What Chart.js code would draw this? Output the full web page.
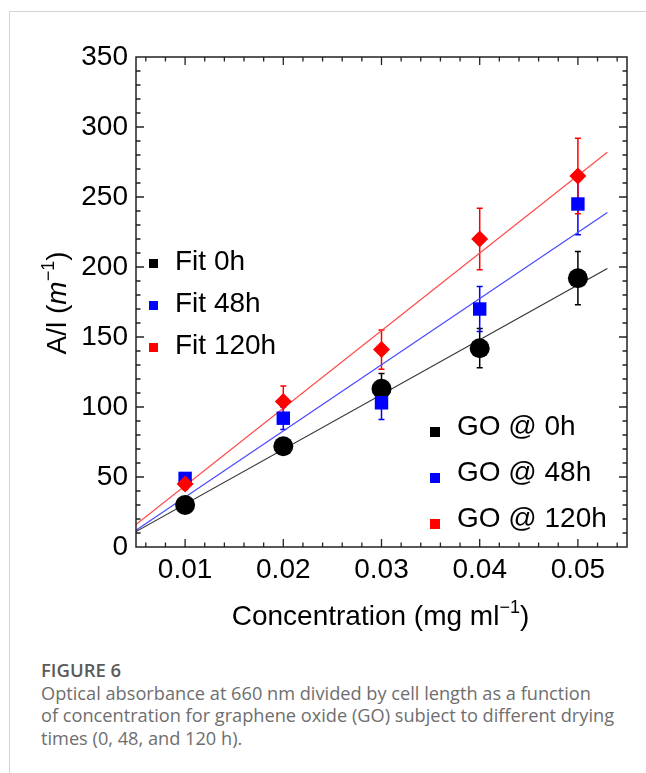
<!DOCTYPE html>
<html lang="en">
<head>
<meta charset="utf-8">
<script src="https://cdn.jsdelivr.net/npm/chart.js@4.4.1/dist/chart.umd.min.js"></script>
<style>
  html, body { margin: 0; padding: 0; background: #fff; }
  body { width: 646px; height: 773px; position: relative; overflow: hidden; }
  .moldura { position: absolute; left: 9px; top: 11px; right: -2px; bottom: -2px;
             border-left: 1px solid #d4d4d4; border-top: 1px solid #d4d4d4; }
  #grafico { position: absolute; left: 0; top: 0; }
  .legenda { position: absolute; left: 41px; top: 659px; font-family: 'Open Sans', sans-serif;
             color: #6e6e6e; font-size: 18.2px; line-height: 22.5px; white-space: nowrap; }
  .legenda b { display: block; color: #5a5a5a; font-weight: 600; font-size: 18.5px; }
</style>
</head>
<body>
<div class="moldura"></div>
<canvas id="grafico" width="646" height="640"></canvas>
<div class="legenda">
  <b>FIGURE 6</b>
  Optical absorbance at 660 nm divided by cell length as a function<br>
  of concentration for graphene oxide (GO) subject to different drying<br>
  times (0, 48, and 120 h).
</div>
<script>
// =========================================================
// 1. DADOS
// =========================================================
const concentracao = [0.01, 0.02, 0.03, 0.04, 0.05];

const go0h = [30, 72, 113, 142, 192];
const erro0h = [3, 6, 11, 14, 19];
const go48h = [49, 92, 103, 170, 245];
const erro48h = [3, 8, 12, 16, 22];
const go120h = [45, 104, 141, 220, 265];
const erro120h = [4, 11, 14, 22, 27];

// retas de ajuste (pontas da linha)
const fitX = [0.005, 0.053];
const fit0h = [11, 199];
const fit48h = [12, 239];
const fit120h = [16, 282];

const ticksX = [0.01, 0.02, 0.03, 0.04, 0.05];
const rotulosX = ['0.01', '0.02', '0.03', '0.04', '0.05'];
const ticksY = [0, 50, 100, 150, 200, 250, 300, 350];
const rotulosY = ['0', '50', '100', '150', '200', '250', '300', '350'];

const rotulosFit = ['Fit 0h', 'Fit 48h', 'Fit 120h'];
const rotulosGO = ['GO @ 0h', 'GO @ 48h', 'GO @ 120h'];
const cores = ['#000000', '#0000ff', '#ff0000'];
const coresFit = ['#333333', '#4a4aff', '#ff4a4a'];

const fonte = '"Liberation Sans", Arial, sans-serif';

function pontos(xs, ys) {
    return xs.map((x, i) => ({ x: x, y: ys[i] }));
}

// =========================================================
// 2. PLUGINS (BARRAS DE ERRO, MOLDURA, TÍTULOS, LEGENDAS)
// =========================================================
const barrasDeErro = {
    id: 'barrasDeErro',
    beforeDatasetsDraw(chart) {
        const ctx = chart.ctx;
        const sx = chart.scales.x, sy = chart.scales.y;
        const series = [[go0h, erro0h], [go48h, erro48h], [go120h, erro120h]];
        ctx.save();
        ctx.lineWidth = 1.5;
        series.forEach(([vals, errs], s) => {
            ctx.strokeStyle = cores[s];
            concentracao.forEach((c, i) => {
                const px = sx.getPixelForValue(c);
                const y1 = sy.getPixelForValue(vals[i] + errs[i]);
                const y2 = sy.getPixelForValue(vals[i] - errs[i]);
                ctx.beginPath();
                ctx.moveTo(px, y1); ctx.lineTo(px, y2);
                ctx.moveTo(px - 3, y1); ctx.lineTo(px + 3, y1);
                ctx.moveTo(px - 3, y2); ctx.lineTo(px + 3, y2);
                ctx.stroke();
            });
        });
        ctx.restore();
    }
};

function escreveTrechos(ctx, trechos, x, y) {
    // trechos: [texto, fonte, deslocamento vertical]
    let total = 0;
    trechos.forEach(t => { ctx.font = t[1]; total += ctx.measureText(t[0]).width; });
    let cx = x - total / 2;
    ctx.textAlign = 'left';
    ctx.textBaseline = 'alphabetic';
    trechos.forEach(t => {
        ctx.font = t[1];
        ctx.fillText(t[0], cx, y + t[2]);
        cx += ctx.measureText(t[0]).width;
    });
}

const moldura = {
    id: 'moldura',
    afterDraw(chart) {
        const ctx = chart.ctx;
        const a = chart.chartArea;
        const sx = chart.scales.x, sy = chart.scales.y;
        ctx.save();
        ctx.strokeStyle = '#222';
        ctx.lineWidth = 1.5;
        ctx.strokeRect(a.left, a.top, a.right - a.left, a.bottom - a.top);

        // tracinhos para dentro nos quatro lados
        ctx.lineWidth = 1.3;
        ctx.beginPath();
        for (let k = 3; k <= 27; k++) {
            const v = k * 0.002;
            const px = sx.getPixelForValue(v);
            const len = (k % 5 === 0) ? 8 : 4.5;
            ctx.moveTo(px, a.bottom); ctx.lineTo(px, a.bottom - len);
            ctx.moveTo(px, a.top); ctx.lineTo(px, a.top + len);
        }
        for (let v = 10; v < 350; v += 10) {
            const py = sy.getPixelForValue(v);
            const len = (v % 50 === 0) ? 8 : 4.5;
            ctx.moveTo(a.left, py); ctx.lineTo(a.left + len, py);
            ctx.moveTo(a.right, py); ctx.lineTo(a.right - len, py);
        }
        ctx.stroke();

        // títulos dos eixos
        ctx.fillStyle = '#000';
        escreveTrechos(ctx, [
            ['Concentration (mg ml', '28px ' + fonte, 0],
            ['\u22121', '18px ' + fonte, -12],
            [')', '28px ' + fonte, 0]
        ], (a.left + a.right) / 2 - 1, 625);

        ctx.save();
        ctx.translate(66, 303);
        ctx.rotate(-Math.PI / 2);
        escreveTrechos(ctx, [
            ['A/l (', '28px ' + fonte, 0],
            ['m', 'italic 28px ' + fonte, 0],
            ['\u22121', '18px ' + fonte, -12],
            [')', '28px ' + fonte, 0]
        ], 0, 0);
        ctx.restore();

        // legendas com quadradinhos
        ctx.font = '28px ' + fonte;
        ctx.textAlign = 'left';
        ctx.textBaseline = 'alphabetic';
        const linhasFit = [270, 312, 354];
        rotulosFit.forEach((txt, i) => {
            ctx.fillStyle = cores[i];
            ctx.fillRect(149, linhasFit[i] - 11, 9, 9);
            ctx.fillStyle = '#000';
            ctx.fillText(txt, 175, linhasFit[i]);
        });
        const linhasGO = [435, 481, 527];
        rotulosGO.forEach((txt, i) => {
            ctx.fillStyle = cores[i];
            ctx.fillRect(430, linhasGO[i] - 8, 10, 10);
            ctx.fillStyle = '#000';
            ctx.fillText(txt, 457, linhasGO[i]);
        });
        ctx.restore();
    }
};

// =========================================================
// 3. DESENHAR O GRÁFICO
// =========================================================
const ctx = document.getElementById('grafico').getContext('2d');

new Chart(ctx, {
    type: 'scatter',
    data: {
        datasets: [
            {
                label: rotulosGO[2], data: pontos(concentracao, go120h),
                pointStyle: 'rectRot', pointRadius: 8.5,
                backgroundColor: cores[2], borderColor: cores[2], borderWidth: 0, order: 0
            },
            {
                label: rotulosGO[1], data: pontos(concentracao, go48h),
                pointStyle: 'rect', pointRadius: 9.5,
                backgroundColor: cores[1], borderColor: cores[1], borderWidth: 0, order: 1
            },
            {
                label: rotulosGO[0], data: pontos(concentracao, go0h),
                pointStyle: 'circle', pointRadius: 10,
                backgroundColor: cores[0], borderColor: cores[0], borderWidth: 0, order: 2
            },
            {
                type: 'line', label: rotulosFit[0], data: pontos(fitX, fit0h),
                borderColor: coresFit[0], borderWidth: 1.2, pointRadius: 0, order: 5
            },
            {
                type: 'line', label: rotulosFit[1], data: pontos(fitX, fit48h),
                borderColor: coresFit[1], borderWidth: 1.2, pointRadius: 0, order: 5
            },
            {
                type: 'line', label: rotulosFit[2], data: pontos(fitX, fit120h),
                borderColor: coresFit[2], borderWidth: 1.2, pointRadius: 0, order: 5
            }
        ]
    },
    options: {
        responsive: false,
        animation: false,
        layout: { padding: { top: 57, right: 19, left: 0, bottom: 0 } },
        plugins: {
            legend: { display: false },
            tooltip: { enabled: false }
        },
        scales: {
            x: {
                type: 'linear', min: 0.005, max: 0.055,
                afterBuildTicks: (s) => { s.ticks = ticksX.map(v => ({ value: v })); },
                afterFit: (s) => { s.height = 93; },
                grid: { display: false, drawTicks: false },
                border: { display: false },
                ticks: {
                    color: '#000', padding: 6, maxRotation: 0, autoSkip: false,
                    font: { family: fonte, size: 28 },
                    callback: (v, i) => rotulosX[i]
                }
            },
            y: {
                type: 'linear', min: 0, max: 350,
                afterBuildTicks: (s) => { s.ticks = ticksY.map(v => ({ value: v })); },
                afterFit: (s) => { s.width = 136; },
                grid: { display: false, drawTicks: false },
                border: { display: false },
                ticks: {
                    color: '#000', padding: 8, autoSkip: false,
                    font: { family: fonte, size: 28 },
                    callback: (v, i) => rotulosY[i]
                }
            }
        }
    },
    plugins: [barrasDeErro, moldura]
});
</script>
</body>
</html>
